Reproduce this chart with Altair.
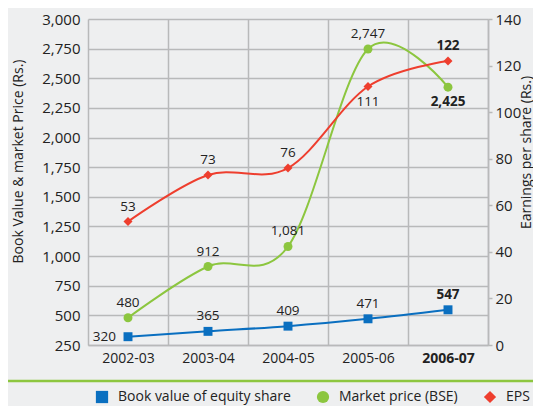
import altair as alt
import pandas as pd

years = ["2002-03", "2003-04", "2004-05", "2005-06", "2006-07"]
book_value = [320, 365, 409, 471, 547]
market_price = [480, 912, 1081, 2747, 2425]
eps = [53, 73, 76, 111, 122]

series_names = ["Book value of equity share", "Market price (BSE)", "EPS"]
series_colors = ["#0a6fc0", "#8cc63f", "#ee3e2e"]
series_shapes = ["square", "circle", "diamond"]

left_ticks = list(range(250, 3001, 250))
right_ticks = list(range(0, 141, 20))

rows = []
for i, yr in enumerate(years):
    rows.append({"year": yr, "series": series_names[0], "value": book_value[i]})
    rows.append({"year": yr, "series": series_names[1], "value": market_price[i]})
    rows.append({"year": yr, "series": series_names[2], "value": eps[i]})
df = pd.DataFrame(rows)

FONT = "Open Sans"
TXT = "#222222"
GRID = "#b8b9ba"
LAST = years[-1]

x_enc = alt.X(
    "year:N", sort=years,
    scale=alt.Scale(type="band", paddingInner=0, paddingOuter=0),
    axis=alt.Axis(
        title=None, tickBand="extent", grid=True, ticks=False,
        domain=True, domainColor=GRID, domainWidth=1.5,
        gridColor=GRID, gridWidth=1.5,
        labelFontSize=14, labelPadding=6, labelColor=TXT, labelAngle=0,
        labelFontWeight={"condition": {"test": f"datum.value == '{LAST}'", "value": "bold"}, "value": "normal"},
    ),
)

color_scale = alt.Scale(domain=series_names, range=series_colors)
shape_scale = alt.Scale(domain=series_names, range=series_shapes)
legend = alt.Legend(
    orient="none", legendX=7, legendY=371, direction="horizontal", title=None,
    labelFontSize=14, labelColor=TXT, labelFont=FONT, symbolSize=150,
    labelOffset=9, columnPadding=25, symbolStrokeWidth=0, labelLimit=400,
)

y_left = alt.Y(
    "value:Q",
    scale=alt.Scale(domain=[250, 3000], nice=False, zero=False),
    axis=alt.Axis(
        values=left_ticks, format=",d", grid=True, ticks=False, domain=False,
        gridColor=GRID, gridWidth=1.5,
        labelFontSize=15, labelPadding=8, labelColor=TXT,
        title="Book Value & market Price (Rs.)", titleFontSize=14,
        titleFontWeight="normal", titleColor=TXT,
        titleX=-70, titleY=142, titleBaseline="middle", titleAlign="center", titleAngle=270,
    ),
)

y_right = alt.Y(
    "value:Q",
    scale=alt.Scale(domain=[0, 140], nice=False),
    axis=alt.Axis(
        orient="right", values=right_ticks, format="d", grid=False, ticks=True, tickSize=4,
        tickColor=GRID, tickWidth=1.5, domain=True, domainColor=GRID, domainWidth=1.5,
        labelFontSize=15, labelPadding=3, labelColor=TXT,
        title="Earnings per share (Rs.)", titleFontSize=14, titleAngle=270,
        titleFontWeight="normal", titleColor=TXT,
        titleX=38, titleY=133, titleBaseline="middle", titleAlign="center",
    ),
)


def series_layer(idx, y_enc, below=(), left=()):
    name = series_names[idx]
    base = alt.Chart(df).transform_filter(alt.datum.series == name)
    line = base.mark_line(interpolate="cardinal", strokeWidth=2, color=series_colors[idx]).encode(
        x=x_enc, y=y_enc,
    )
    pts = base.mark_point(filled=True, size=80, opacity=1).encode(
        x=x_enc, y=y_enc,
        color=alt.Color("series:N", scale=color_scale, legend=legend, sort=series_names),
        shape=alt.Shape("series:N", scale=shape_scale, legend=legend, sort=series_names),
    )
    fmt = ",d" if idx == 1 else "d"
    layers = [line, pts]
    for yr in years:
        weight = "bold" if yr == LAST else "normal"
        if yr in below:
            kw = dict(dy=15)
        elif yr in left:
            kw = dict(dx=-12, align="right")
        else:
            kw = dict(dy=-15)
        layers.append(
            base.transform_filter(alt.datum.year == yr).mark_text(
                fontSize=13.5, color=TXT, font=FONT, fontWeight=weight, **kw
            ).encode(x=x_enc, y=y_enc, text=alt.Text("value:Q", format=fmt))
        )
    return alt.layer(*layers)


left_layer = alt.layer(
    series_layer(0, y_left, left=["2002-03"]),
    series_layer(1, y_left, below=["2006-07"]),
)
right_layer = series_layer(2, y_right, below=["2005-06"])

sep = alt.Chart(pd.DataFrame({"k": [0]})).mark_rule(color="#8dc63f", strokeWidth=2.5).encode(
    x=alt.value(-80), x2=alt.value(445), y=alt.value(362)
)

chart = alt.layer(left_layer, right_layer, sep).resolve_scale(y="independent").properties(
    width=400, height=326,
    autosize=alt.AutoSizeParams(type="none"),
    padding={"left": 80, "top": 11, "right": 45, "bottom": 61},
    background="#eeeff0",
).configure(font=FONT).configure_view(stroke=None)

chart.save("out.html", embed_options={"renderer": "svg", "actions": False})
